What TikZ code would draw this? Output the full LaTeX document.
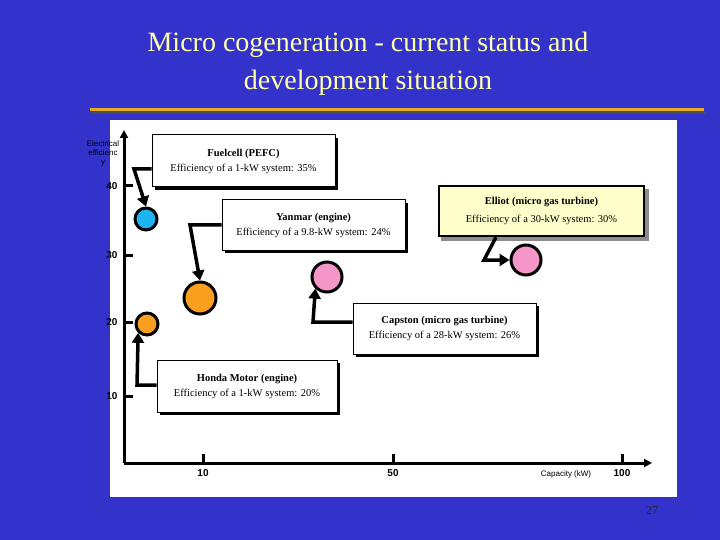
\documentclass[tikz,border=0pt]{standalone}
\usepackage{fontspec}
\setmainfont{Liberation Serif}
\newfontfamily\axf{Liberation Sans}
\usetikzlibrary{arrows.meta}
\definecolor{bg}{RGB}{51,51,204}
\definecolor{ttl}{RGB}{255,255,170}
\definecolor{note}{RGB}{255,255,204}
\definecolor{gold}{RGB}{230,170,40}
\definecolor{pk}{RGB}{245,150,200}
\definecolor{og}{RGB}{250,160,30}
\definecolor{bl}{RGB}{30,180,240}
\tikzset{
 lbl/.style={draw=black,line width=1pt,fill=white,align=center,font=\fontsize{10.5}{15}\selectfont,inner sep=0pt},
 sh/.style={fill=black},
 dot/.style={circle,draw=black,line width=3pt,inner sep=0pt},
 arr/.style={line width=3.5pt,-{Triangle[length=10pt,width=12pt]}},
 tk/.style={font=\axf\bfseries\fontsize{10}{11}\selectfont},
}
\begin{document}
\begin{tikzpicture}[x=1pt,y=-1pt]
\fill[bg] (0,0) rectangle (720,540);
\useasboundingbox (0,0) rectangle (720,540);
\node[text=ttl,font=\fontsize{28}{38}\selectfont,align=center] (title) at (368,64) {Micro cogeneration - current status and\\development situation};
\fill[black!70] (92,111) rectangle (706,114);
\fill[gold] (90,108) rectangle (704,111);
\fill[white] (110,120) rectangle (677,497);
% axes
\coordinate (o) at (124,463);
\coordinate (ytop) at (124,130);
\coordinate (xend) at (652,463);
\draw[line width=3pt,-{Triangle[length=8pt,width=8pt]}] (o) -- (ytop);
\draw[line width=3pt,-{Triangle[length=8pt,width=8pt]}] (o) -- (xend);
\foreach \y/\t in {186/40,255/30,322/20,396/10}{
 \draw[line width=3pt] (124,\y) -- (133,\y);
 \node[tk,anchor=east] (yl\t) at (121,\y) {\t};}
\foreach \x/\t in {203/10,393/50,622/100}{
 \draw[line width=3pt] (\x,463) -- (\x,454);
 \node[tk] (xl\t) at (\x,473) {\t};}
\node[font=\axf\fontsize{8}{9}\selectfont] (cap) at (566,474) {Capacity (kW)};
\node[font=\axf\fontsize{8}{9}\selectfont,align=center] (ee) at (103,153) {Electrical\\efficienc\\y};
% circles
\node[dot,fill=bl,minimum size=22pt] (c1) at (146,219) {};
\node[dot,fill=og,minimum size=32pt] (c2) at (200,298) {};
\node[dot,fill=og,minimum size=22pt] (c3) at (147,324) {};
\node[dot,fill=pk,minimum size=30pt] (c4) at (327,277) {};
\node[dot,fill=pk,minimum size=30pt] (c5) at (526,260) {};
% boxes
\fill[sh] (155,138) rectangle (338,190);
\node[lbl,minimum width=183pt,minimum height=52pt] (b1) at (243.5,161) {\textbf{Fuelcell (PEFC)}\\Efficiency of a 1-kW system: 35\%};
\fill[sh] (225,203) rectangle (408,253);
\node[lbl,minimum width=183pt,minimum height=50pt] (b2) at (313.5,225) {\textbf{Yanmar (engine)}\\Efficiency of a 9.8-kW system: 24\%};
\fill[black!45] (441,189) rectangle (649,241);
\node[lbl,fill=note,line width=2.5pt,minimum width=205pt,minimum height=50pt] (b3) at (541.5,211) {\textbf{Elliot (micro gas turbine)}\\[3pt]Efficiency of a 30-kW system: 30\%};
\fill[sh] (356,306) rectangle (539,357);
\node[lbl,minimum width=183pt,minimum height=51pt] (b4) at (444.5,328.5) {\textbf{Capston (micro gas turbine)}\\Efficiency of a 28-kW system: 26\%};
\fill[sh] (160,363) rectangle (340,415);
\node[lbl,minimum width=180pt,minimum height=52pt] (b5) at (247,386) {\textbf{Honda Motor (engine)}\\Efficiency of a 1-kW system: 20\%};
% connectors
\draw[arr] (b1.west |- 0,169) -- (134,169) -- (c1.north);
\draw[arr] (b2.west |- 0,225) -- (190,225) -- (c2.north);
\draw[arr] (b3.south -| 496,0) -- (484,260) -- (c5.west);
\draw[arr] (b4.west |- 0,322) -- (313,322) -- (c4.south west);
\draw[arr] (b5.west |- 0,385) -- (137,385) -- (c3.south west);
\node[text=black!85,font=\fontsize{12}{13}\selectfont] (pg) at (652,511) {27};
\end{tikzpicture}
\end{document}
